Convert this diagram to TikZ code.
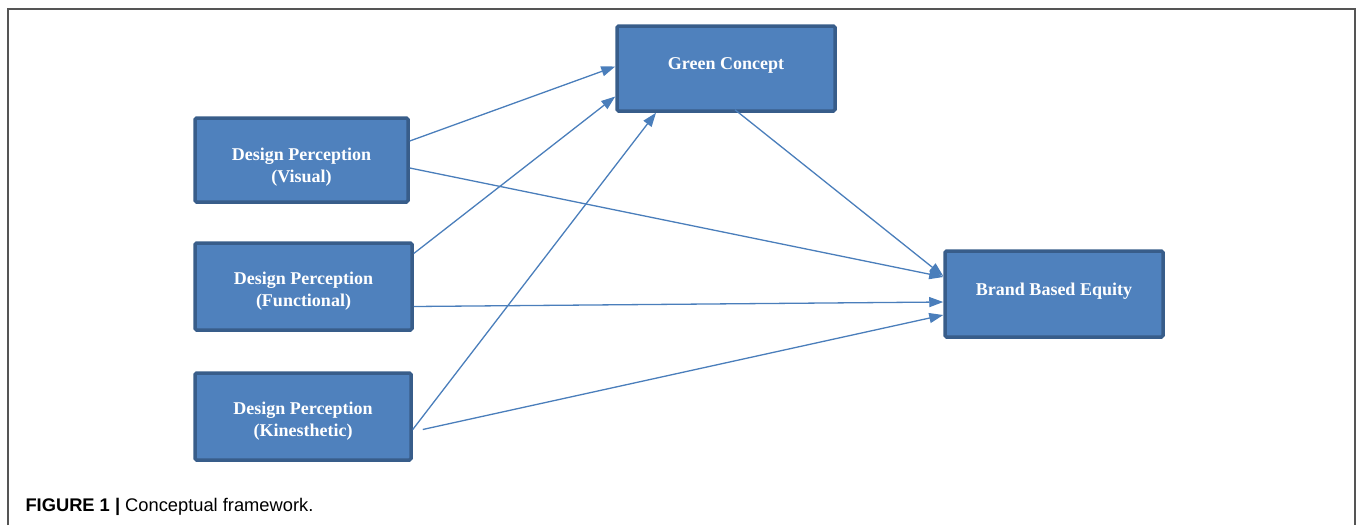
\documentclass[tikz,border=0pt]{standalone}
\usepackage{fontspec}
\setmainfont{Liberation Serif}
\newfontfamily\capfont{Liberation Sans}
\usetikzlibrary{arrows.meta}
\definecolor{boxfill}{RGB}{79,129,189}
\definecolor{boxline}{RGB}{56,93,138}
\definecolor{arrowblue}{RGB}{74,126,187}
\definecolor{framegray}{RGB}{85,85,85}
\tikzset{
  conc/.style={draw=boxline, fill=boxfill, line width=3.5pt, rounded corners=1.5pt, inner sep=0pt},
  lbl/.style={text=white, font=\fontsize{18}{22}\selectfont\bfseries, align=center, inner sep=0pt},
  arr/.style={draw=arrowblue, line width=1.3pt, -{Triangle[length=14pt,width=10pt]}}
}
\begin{document}
\begin{tikzpicture}[x=1pt,y=-1pt]
\useasboundingbox (0,0) rectangle (1358,525);
\draw[framegray, line width=1.5pt] (8,525) -- (8,9) -- (1355,9) -- (1355,525);
\node[conc, minimum width=213pt, minimum height=84pt,
  label={[lbl,yshift=-7pt]center:{Design Perception\\(Visual)}}] (vis) at (301.5,160) {};
\node[conc, minimum width=217pt, minimum height=87pt,
  label={[lbl,yshift=-5pt]center:{Design Perception\\(Functional)}}] (fun) at (303.5,286.5) {};
\node[conc, minimum width=216pt, minimum height=87pt,
  label={[lbl,yshift=-5pt]center:{Design Perception\\(Kinesthetic)}}] (kin) at (303,416.5) {};
\node[conc, minimum width=218pt, minimum height=85pt,
  label={[lbl,yshift=3pt]center:Green Concept}] (green) at (726,68.5) {};
\node[conc, minimum width=218pt, minimum height=86pt,
  label={[lbl,yshift=3pt]center:Brand Based Equity}] (bbe) at (1054,294) {};
\draw[arr] ([yshift=19pt]vis.east) -- ([yshift=2pt]green.west);
\draw[arr] ([yshift=-8pt]vis.east) -- ([yshift=17pt]bbe.west);
\draw[arr] ([yshift=33pt]fun.east) -- ([yshift=-28pt]green.west);
\draw[arr] ([yshift=-20pt]fun.east) -- ([yshift=-8pt]bbe.west);
\draw[arr] ([yshift=-13pt]kin.east) -- ([xshift=-70pt]green.south);
\draw[arr] ([xshift=10pt,yshift=-13pt]kin.east) -- ([yshift=-21pt]bbe.west);
\draw[arr] ([xshift=9pt,yshift=3pt]green.south) -- ([yshift=18pt]bbe.west);
\node[anchor=west, font=\capfont\fontsize{18.3}{21}\selectfont] (cap) at (22,507) {\textbf{FIGURE 1 |} Conceptual framework.};
\end{tikzpicture}
\end{document}
